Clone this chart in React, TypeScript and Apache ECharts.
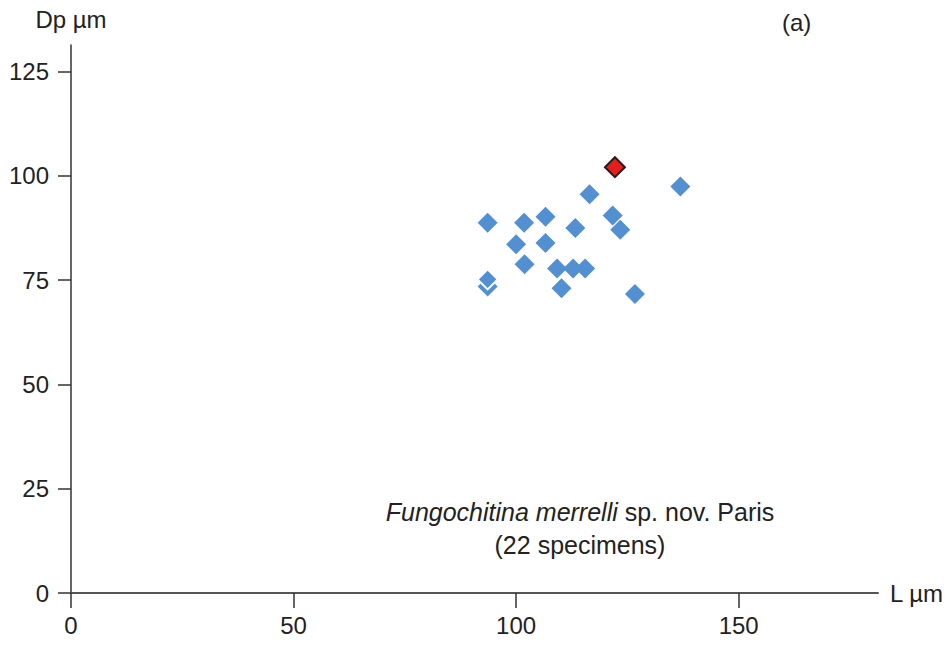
import React, { useEffect, useRef } from "react";
import * as echarts from "echarts";

const lengthL = [93.6, 93.6, 93.6, 101.8, 106.6, 116.5, 121.7, 123.4, 136.9, 113.3, 100.0, 106.6, 101.9, 109.2, 112.8, 115.5, 110.2, 126.7];
const diameterDp = [73.5, 75.2, 88.8, 88.8, 90.2, 95.6, 90.5, 87.1, 97.5, 87.5, 83.6, 83.9, 78.8, 77.8, 77.8, 77.8, 73.1, 71.7];
const holotypeL = [122.2];
const holotypeDp = [102.1];
const xTicks = [0, 50, 100, 150];
const yTicks = [0, 25, 50, 75, 100, 125];

const FONT = "'Liberation Sans', Arial, sans-serif";

export default function App() {
  const ref = useRef<HTMLDivElement>(null);
  useEffect(() => {
    document.body.style.margin = "0";
    if (!ref.current) return;
    const chart = echarts.init(ref.current, undefined, { renderer: "svg" });
    const blueData = lengthL.map((l, i) => {
      const item: any = { value: [l, diameterDp[i]] };
      if (i === 1) item.itemStyle = { borderColor: "#ffffff", borderWidth: 2 };
      return item;
    });
    const redData = holotypeL.map((l, i) => [l, holotypeDp[i]]);
    chart.setOption({
      animation: false,
      backgroundColor: "#ffffff",
      textStyle: { fontFamily: FONT },
      grid: { left: 71, right: 74, top: 45, bottom: 53 },
      xAxis: {
        type: "value",
        min: 0,
        max: 181.3,
        name: "L µm",
        nameLocation: "end",
        nameGap: 12,
        nameTextStyle: { fontSize: 24, color: "#222", fontFamily: FONT },
        splitLine: { show: false },
        axisLine: { show: true, onZero: false, lineStyle: { color: "#555", width: 2 } },
        axisTick: { show: true, inside: false, length: 15, customValues: xTicks, lineStyle: { color: "#333", width: 1.5 } },
        axisLabel: { customValues: xTicks, fontSize: 24, color: "#222", margin: 20, fontFamily: FONT },
      },
      yAxis: {
        type: "value",
        min: 0,
        max: 131.4,
        name: "Dp µm",
        nameLocation: "end",
        nameGap: 14,
        nameTextStyle: { fontSize: 24, color: "#222", fontFamily: FONT, align: "center" },
        splitLine: { show: false },
        axisLine: { show: true, onZero: false, lineStyle: { color: "#333", width: 1.5 } },
        axisTick: { show: true, inside: false, length: 13, customValues: yTicks, lineStyle: { color: "#333", width: 1.5 } },
        axisLabel: { customValues: yTicks, fontSize: 24, color: "#222", margin: 22, fontFamily: FONT },
      },
      graphic: [
        {
          type: "text",
          left: 782,
          top: 10,
          style: { text: "(a)", fontSize: 24, fill: "#222", fontFamily: FONT },
        },
        {
          type: "text",
          x: 580,
          y: 495,
          style: {
            text: "{i|Fungochitina merrelli} sp. nov. Paris\n(22 specimens)",
            fontSize: 25,
            lineHeight: 33,
            fill: "#222",
            fontFamily: FONT,
            align: "center",
            rich: {
              i: { fontStyle: "italic", fontSize: 25, fill: "#222", fontFamily: FONT },
            },
          },
        },
      ],
      series: [
        {
          type: "scatter",
          symbol: "diamond",
          symbolSize: 20,
          itemStyle: { color: "#5390D2", opacity: 1 },
          data: blueData,
          z: 2,
        },
        {
          type: "scatter",
          symbol: "diamond",
          symbolSize: 20,
          itemStyle: { color: "#E41E1E", borderColor: "#2a1a1a", borderWidth: 2, opacity: 1 },
          data: redData,
          z: 3,
        },
      ],
    });
    return () => chart.dispose();
  }, []);
  return <div ref={ref} style={{ width: 952, height: 646 }} />;
}
